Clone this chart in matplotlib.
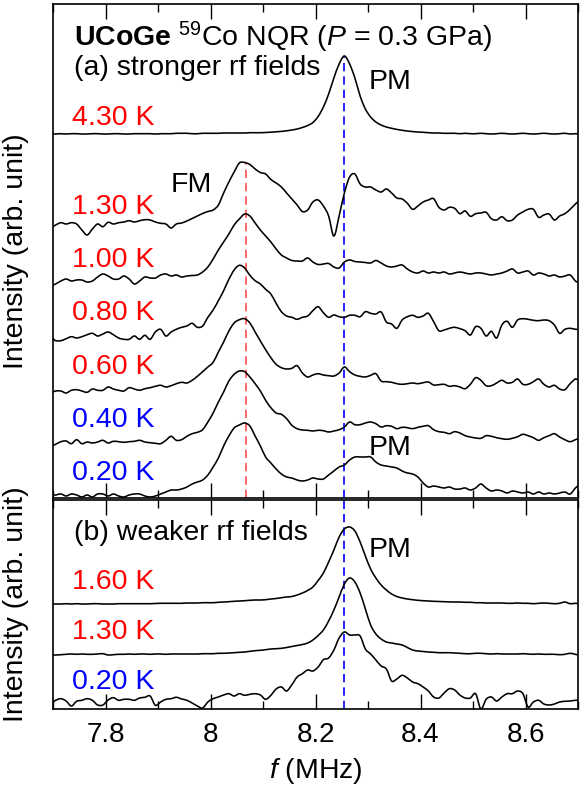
import numpy as np
import matplotlib
matplotlib.use("Agg")
import matplotlib.pyplot as plt
from matplotlib.ticker import MultipleLocator, FuncFormatter
from matplotlib.path import Path
from matplotlib.patches import PathPatch

plt.rcParams['font.family'] = ['Liberation Sans', 'DejaVu Sans']
plt.rcParams['mathtext.fontset'] = 'custom'
plt.rcParams['mathtext.rm'] = 'Liberation Sans'
plt.rcParams['mathtext.it'] = 'Liberation Sans:italic'
plt.rcParams['mathtext.bf'] = 'Liberation Sans:bold'

# frequency axis of the spectra (MHz)
freq = np.concatenate(([7.70], np.round(np.arange(7.705, 8.70, 0.01), 3), [8.70]))

# ---- (a) stronger rf fields: intensity above each trace's baseline ----
a_430 = [0,
         0, 0.3, 0, 0.3, 0.3, 0, 0, 0.3, 0.3, 0,
         0, 0.3, 0.3, 0, 0, 0.3, 0.3, 0.3, 0.3, 0,
         0.3, 0.3, 0.3, 0.7, 0.7, 0.7, 0.3, 0.3, 0.7, 0.7,
         0.7, 0.7, 1, 1, 1, 1, 1, 1.3, 1.3, 1.3,
         1.5, 1.8, 2.2, 2.6, 3.2, 4, 5, 6.5, 8.5, 11.5,
         17.5, 27, 40, 56, 70, 78, 70, 56, 38, 25,
         17, 12, 9, 7, 5.7, 4.6, 3.7, 3, 2.4, 2,
         1.7, 1.3, 1, 1, 0.7, 0.7, 0.7, 0.3, 0.7, 0.3,
         0.3, 0.7, 0.3, 0, 0.3, 0.7, 0.3, 0, 0.3, 0.7,
         0.3, 0, 0.3, 0.7, 0.3, 0, 0.3, 0.7, 0, 0.3,
         0]
a_130 = [-2.7,
         -1, 1.3, 0, 1.3, 0, -6, -11, -5, 0, -2.7,
         1.7, 0, 1.3, 2, 3.3, 2, 3.3, 4.3, 4, 2,
         0.7, 0, -4, 0, 1, 3, 5.5, 8, 10.5, 12.5,
         14, 19, 31, 42, 52, 61, 61.5, 59.5, 55, 51.5,
         50, 44.5, 41, 37, 31, 25, 19, 12.5, 14, 22,
         24, 18, 8, -12, 8, 31, 47, 50, 40, 37,
         37, 34, 32, 35, 31, 26, 25, 20.7, 14.7, 18,
         22, 24, 25.3, 16.7, 14, 16.7, 15.7, 10.3, 13, 7.7,
         10.3, 11, 11.7, 5.3, 4, 7.3, 3.3, 4, 9, 12,
         14.7, 14.7, 6.7, 9, 10, 4, 8, 10.3, 14.7, 20,
         22.3]
a_100 = [-5,
         -4, -1, 1, -1, 0, 0, -2, -1, 3, 6,
         4, 1, 1, 4, 1, -4, -1, 3, 2, 2,
         5, 6, 4, 5, 3, 4, 4.5, 5, 8, 13,
         21, 30, 38, 46, 55, 61, 66, 64, 57, 50,
         44, 38, 31, 25, 22, 19.5, 19, 19, 22, 18,
         15.5, 16, 16.5, 13, 12, 18, 20, 18.5, 18, 17.5,
         17, 19.5, 17, 14, 13, 14, 15, 11, 8, 7,
         9, 7, 8, 7, 8, 6, 7, 8, 7, 6,
         7, 7, 6, 5, 6, 7, 9, 11, 7, 8,
         9, 5, 7, 6, 4, 5, 3, 4, 5, -1,
         -2]
a_080 = [-0.3,
         -2.7, -2.7, -0.7, 1.3, 0, 1.3, 3.3, 4.7, 2, 4,
         6, 3.3, 0, -1.3, -1.3, 2, -1.3, 2.7, -1.3, 6,
         8.7, 2, 6, 8.7, 10.7, 12, 14.7, 10.7, 12, 20.7,
         28, 37.3, 47.3, 58.7, 68, 72.7, 70, 62.7, 57.3, 54,
         48.7, 44, 34.7, 26.3, 22, 20.7, 18.7, 20.7, 22, 27.3,
         31.3, 25.3, 20.7, 23, 21.3, 20.7, 22.7, 22.7, 21.3, 26.3,
         24.7, 24, 26, 16, 14, 9.7, 18, 21.3, 22.7, 20.7,
         22, 24.7, 16.3, 7.3, 8, 9.7, 10.7, 9.3, 7.3, 3,
         11.3, 9.7, 2, 6.7, 0, 13, 16.7, 10.7, 18, 19.3,
         18.7, 17.7, 17.3, 18, 17.3, 13, 4.7, 8.7, 9.7, 8.7,
         8.7]
a_060 = [0,
         1, 1, -1, 1.7, 2.3, 1, -0.3, 3, 1.7, 1.7,
         5, 3, 1.7, 1, 4.3, 3, 1.7, 3.3, 4.3, 5.7,
         6.7, 5, 6.3, 8.3, 9.7, 9, 11.7, 15.7, 20.3, 25,
         29.7, 40, 50, 61, 69, 72.3, 73.3, 69, 60, 51,
         42.3, 34.3, 27.7, 24.3, 23, 23.7, 26.3, 19, 15, 17,
         18.3, 17, 16.3, 16, 19, 25, 20.3, 17, 15.7, 15,
         16.7, 18.3, 11, 10.3, 9.7, 8.3, 7.7, 8.3, 9, 8.3,
         9.3, 10, 7, 7.3, 7.7, 5.7, 6.3, 5, 3.3, 7.7,
         14.3, 11.7, 6.3, 6.3, 9, 11.7, 9, 9.7, 13, 7.7,
         7.7, 10.3, 13, 7.7, 5, 6.7, 3, 2.3, 8.3, 13,
         11.7]
a_040 = [-2.3,
         -1.3, 1.3, 2, -0.7, 3.3, -0.7, 1, 0, 1, 2.7,
         0, 1.7, 1.3, 0.7, 1.3, 1.7, 2.7, 1, 0.3, -0.3,
         -0.7, 2.7, 6.7, 2.7, 3.3, 6.7, 9.3, 10.7, 13.3, 21,
         30, 41, 51, 62, 68.7, 72, 71.3, 66, 59.3, 52,
         42.7, 35.3, 30, 28.7, 24.3, 17.7, 14.3, 13, 12.7, 12,
         12.7, 12.3, 11, 12, 13.3, 16, 21, 18.3, 18.3, 20,
         21, 19.3, 16, 17.3, 16.7, 14.3, 15.7, 15.3, 14.3, 15.7,
         16.7, 17.3, 13.3, 11.3, 10.7, 9.3, 11.3, 10, 7.3, 6,
         5, 4.7, 7.3, 6.7, 5.3, 4.3, 3.7, 4.7, 6.3, 8.7,
         7.3, 5.3, 2.7, 5.3, 7.3, 9.3, 6, 3.3, 1.3, 3.3,
         4.3]
a_020 = [1,
         1, 2, 0, 2, 1, -1, 1, -1, 2, 2,
         0, 2, 0, -1, 1, 2, 2, 0, -1, 0,
         2, 4, 6, 6, 7, 9, 12, 14, 16, 21,
         29, 38, 50, 60, 68, 71, 73, 70, 60, 50,
         39, 33, 27, 22, 19, 18, 16, 15, 16, 18,
         17, 17, 21, 25, 29, 31, 36, 39, 39, 39,
         39, 34, 31, 30, 29, 28, 25, 23, 22, 19,
         13, 9, 10, 9, 8, 9, 7, 7, 8, 6,
         8, 12, 8, 5, 6, 5, 3, 5, 4, 3,
         4, 2, 4, 2, 3, 2, 3, 4, 2, 8,
         10]

# ---- (b) weaker rf fields ----
b_160 = [0,
         0, 0, 0.3, 0, 0.3, 0, 0, 0.3, 0.3, 0,
         0, 0, 0.3, 0.3, 0.3, 0.3, 0.3, 0.3, 0.3, 0.5,
         0.7, 0.7, 0.7, 0.7, 0.7, 1, 1, 1, 1.3, 1.3,
         1.3, 1.7, 2, 2.3, 2.7, 3, 3.3, 3.7, 4, 4,
         4.3, 5, 5.5, 6.3, 7, 7.5, 9, 11, 13.5, 17,
         23.5, 31, 42, 54, 67, 75, 77, 73, 62, 48,
         35, 26, 19, 14, 10, 7.5, 6, 5, 4.3, 3.7,
         3.3, 3, 2.7, 2.5, 2.3, 2.1, 2, 2, 1.7, 1.7,
         1.3, 1.3, 1, 1, 1, 1, 0.7, 0.7, 1, 0.7,
         0.7, 0.3, 0.7, 1, 0.7, 0.3, 0.7, 2, 0.3, 0.7,
         0.3]
b_130 = [0,
         0, 0.3, 0.7, 1, 0.7, 1, 0.7, 0.7, 1, 1.3,
         0, 0.3, 0.7, 0.7, 1, 0.7, 1, 1, 0.7, 1,
         1, 0.7, 1, 1, 1, 1, 1, 1, 1.3, 1.3,
         1.3, 1.7, 1.7, 2, 2.3, 2.7, 3, 3.7, 4.3, 4.7,
         5.3, 6, 6.3, 6.7, 7.5, 8.5, 9.5, 10.5, 12, 15,
         19.5, 25, 34, 45, 58, 71, 77, 73, 62, 46,
         30, 21, 16, 13, 12, 11, 10, 7.5, 5, 4,
         3.5, 3, 2.7, 2.3, 2.3, 2.3, 2, 1.7, 1.3, 1.3,
         1.7, 1.7, 1.3, 1, 1.3, 1, 1, 1, 1, 1.3,
         1, 0.7, 1, 0.7, 0.7, 0.7, 0.3, 0.7, 1.7, 0.7,
         0]
b_020 = [0,
         1.7, 3.3, 1, -4, 0.7, 1.7, 3.3, 1.7, -3, -3,
         2, 4.3, 1.7, 2.7, 2.7, 1.7, 4, 4.7, 6, -3.3,
         0, 2.7, 3.3, 4.7, 3, 1.7, -1, -4, -6, 0,
         3.3, 5, 7, 8.3, 6, 8.3, 6.7, 7.7, 8.3, 7,
         2.7, 6.7, 13, 15, 11, 17.3, 25, 28.3, 32, 31,
         35, 42.3, 44, 52, 64, 70, 67, 67, 66, 53,
         48, 42, 36, 33, 21, 23, 26.7, 24, 20, 18.3,
         15, 11, 5, 4, 9, 13.3, 12, 7, 4, 4,
         8.3, -7, 2.7, 5, 1, 5, 8.3, 8.3, 11, 8.3,
         -5, 0, 1.7, -2, -3, -2, 0, 0.7, 1, 1.7,
         1.7]

temps_a = ["4.30 K", "1.30 K", "1.00 K", "0.80 K", "0.60 K", "0.40 K", "0.20 K"]
spectra_a = [a_430, a_130, a_100, a_080, a_060, a_040, a_020]
temps_b = ["1.60 K", "1.30 K", "0.20 K"]
spectra_b = [b_160, b_130, b_020]

f_fm = 8.067   # ferromagnetic line position
f_pm = 8.255   # paramagnetic line position

# ---- layout / styling ----
RED, BLUE = "#ff0000", "#0000ff"
col_a = [RED, RED, RED, RED, RED, BLUE, BLUE]
col_b = [RED, RED, BLUE]
base_a = [364, 274, 218, 160, 106, 55, 2]
label_a = [380, 291, 238, 185, 131, 78, 25]
base_b = [105, 54, 7]
label_b = [127, 77, 27]
FS = 20.5
FS_TICK = 20


def smooth_path(x, y):
    """Catmull-Rom curve through the data points, as cubic Bezier segments."""
    x = np.asarray(x, float)
    y = np.asarray(y, float)
    xp = np.concatenate(([x[0]], x, [x[-1]]))
    yp = np.concatenate(([y[0]], y, [y[-1]]))
    verts = [(x[0], y[0])]
    codes = [Path.MOVETO]
    for i in range(1, len(x)):
        p0 = np.array([xp[i - 1], yp[i - 1]])
        p1 = np.array([xp[i], yp[i]])
        p2 = np.array([xp[i + 1], yp[i + 1]])
        p3 = np.array([xp[i + 2], yp[i + 2]])
        c1 = p1 + (p2 - p0) / 6.0
        c2 = p2 - (p3 - p1) / 6.0
        verts += [tuple(c1), tuple(c2), tuple(p2)]
        codes += [Path.CURVE4] * 3
    return Path(verts, codes)


W, H = 587, 796
fig = plt.figure(figsize=(W / 100, H / 100), dpi=100)
L, R = 53 / W, 578 / W
ax_a = fig.add_axes([L, 1 - 498 / H, R - L, (498 - 4) / H])
ax_b = fig.add_axes([L, 1 - 709 / H, R - L, (709 - 500) / H])
ax_a.set_ylim(0, 494)
ax_b.set_ylim(0, 209)

for ax in (ax_a, ax_b):
    ax.set_xlim(7.7, 8.7)
    ax.set_yticks([])
    ax.xaxis.set_major_locator(MultipleLocator(0.2))
    ax.xaxis.set_minor_locator(MultipleLocator(0.1))
    ax.xaxis.set_major_formatter(FuncFormatter(lambda v, p: f"{v:g}"))
    ax.tick_params(axis='x', which='both', direction='in', top=True, bottom=True,
                   width=1.0, labelsize=FS_TICK, pad=9)
    ax.tick_params(axis='x', which='major', length=11)
    ax.tick_params(axis='x', which='minor', length=6)
    for s in ax.spines.values():
        s.set_linewidth(1.2)
    ax.set_ylabel("Intensity (arb. unit)", fontsize=FS)
    ax.yaxis.set_label_coords(-0.046, 0.5)
ax_a.tick_params(axis='x', which='both', labelbottom=False)

# guide lines at the FM and PM resonance frequencies
fm_top = base_a[1] + max(a_130)
pm_top = base_a[0] + max(a_430)
ax_a.plot([f_fm, f_fm], [0, fm_top], ls=(0, (5, 3)), color="#ff4d4d", lw=1.2, zorder=1)
ax_a.plot([f_pm, f_pm], [0, pm_top], ls=(0, (5, 3)), color=BLUE, lw=1.2, zorder=1)
ax_b.plot([f_pm, f_pm], [0, 209], ls=(0, (5, 3)), color=BLUE, lw=1.2, zorder=1)

for ax, spectra, bases, lys, temps, cols in (
        (ax_a, spectra_a, base_a, label_a, temps_a, col_a),
        (ax_b, spectra_b, base_b, label_b, temps_b, col_b)):
    for spec, b0, ly, t, c in zip(spectra, bases, lys, temps, cols):
        ax.add_patch(PathPatch(smooth_path(freq, b0 + np.asarray(spec)),
                               fill=False, ec="black", lw=1.15, zorder=2))
        ax.text(0.036, ly, t, transform=ax.get_yaxis_transform(), color=c,
                fontsize=FS, va="center", ha="left")

ta = ax_a.get_yaxis_transform()
ax_a.text(0.040, 461, r"$\mathbf{UCoGe}$ $^{59}$Co NQR ($P$ = 0.3 GPa)",
          transform=ta, fontsize=FS, va="center", ha="left")
ax_a.text(0.040, 430, "(a) stronger rf fields", transform=ta, fontsize=FS,
          va="center", ha="left")
ax_a.text(8.342, 416, "PM", fontsize=FS, va="center", ha="center")
ax_a.text(7.963, 313, "FM", fontsize=FS, va="center", ha="center")
ax_a.text(8.342, 50, "PM", fontsize=FS, va="center", ha="center")
ax_b.text(0.040, 176, "(b) weaker rf fields", transform=ax_b.get_yaxis_transform(),
          fontsize=FS, va="center", ha="left")
ax_b.text(8.342, 159, "PM", fontsize=FS, va="center", ha="center")

ax_b.set_xlabel(r"$f$ (MHz)", fontsize=FS, labelpad=6)

fig.savefig("out.png", dpi=100)
